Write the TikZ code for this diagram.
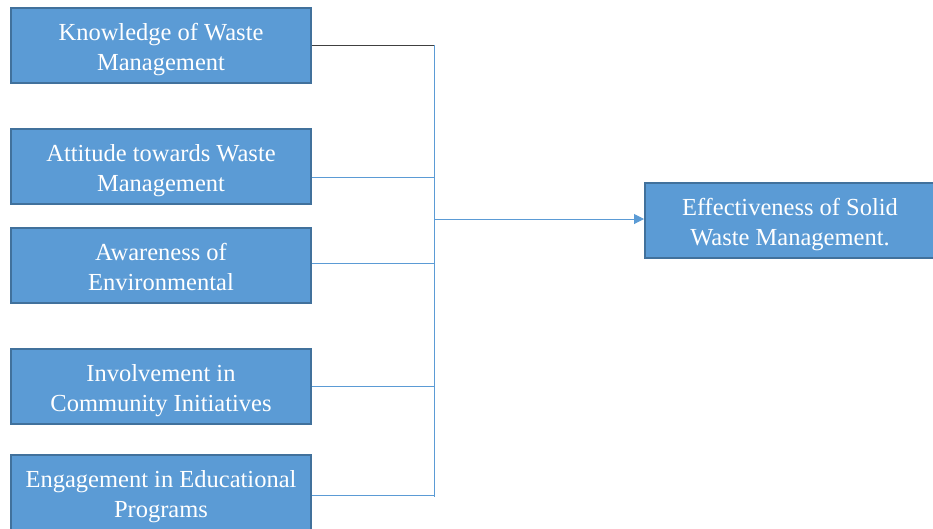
\documentclass[tikz,border=0pt]{standalone}
\usepackage{fontspec}
\setmainfont{Liberation Serif}
\usetikzlibrary{arrows.meta}
\definecolor{boxfill}{HTML}{5B9BD5}
\definecolor{boxline}{HTML}{41719C}
\definecolor{conn}{HTML}{5B9BD5}
\newcommand\boxtext[2]{\begin{tabular}{@{}c@{}}\rule{0pt}{29pt}#1\\#2\end{tabular}}
\begin{document}
\begin{tikzpicture}[x=1pt,y=-1pt,
  varbox/.style={draw=boxline, line width=2pt, fill=boxfill, text=white,
    minimum width=300pt, minimum height=75pt, inner sep=0pt,
    font=\fontsize{24.5}{30}\selectfont},
  link/.style={draw=conn, line width=1pt}]
\useasboundingbox (0,0) rectangle (933,528);
\clip (0,0) rectangle (933,528);
\node[varbox] (k) at (161,45.5) {\boxtext{Knowledge of Waste}{Management}};
\node[varbox] (a) at (161,166.5) {\boxtext{Attitude towards Waste}{Management}};
\node[varbox] (w) at (161,265) {\boxtext{Awareness of}{Environmental}};
\node[varbox] (i) at (161,386.5) {\boxtext{Involvement in}{Community Initiatives}};
\node[varbox] (e) at (161,492.5) {\boxtext{Engagement in Educational}{Programs}};
\node[varbox, minimum width=290pt] (r) at (790,220.5) {\boxtext{Effectiveness of Solid}{Waste Management.}};
\coordinate (jk) at (434,45);
\coordinate (ja) at (434,177);
\coordinate (jw) at (434,263);
\coordinate (ji) at (434,386);
\coordinate (je) at (434,495);
\coordinate (jr) at (434,219);
\coordinate (jb) at (434,497);
\draw[line width=1pt, draw=black!75] (k.east |- jk) -- (jk);
\draw[link] (jk) -- (jb);
\draw[link] (a.east |- ja) -- (ja);
\draw[link] (w.east |- jw) -- (jw);
\draw[link] (i.east |- ji) -- (ji);
\draw[link] (e.east |- je) -- (je);
\draw[link, -{Triangle[length=10pt,width=10pt]}] (jr) -- (r.west |- jr);
\end{tikzpicture}
\end{document}
